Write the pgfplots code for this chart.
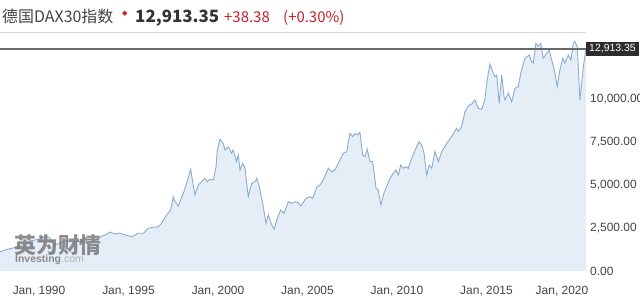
\documentclass[border=0pt]{standalone}
\usepackage{pgfplots}
\pgfplotsset{compat=1.18}
\usepackage{pgfplotstable}
\usepackage{fontspec}
\setmainfont{Liberation Sans}
\newfontfamily\cjk{Noto Sans CJK SC}
\newfontfamily\dejavu{DejaVu Sans}
\definecolor{linec}{RGB}{138,172,207}
\definecolor{fillc}{RGB}{229,238,247}
\definecolor{txt}{RGB}{68,68,68}
\definecolor{redc}{RGB}{200,30,40}
\definecolor{lvl}{RGB}{105,105,105}
\definecolor{boxc}{RGB}{45,45,45}
\definecolor{logoc}{RGB}{120,120,120}

\pgfplotstableread{
yr val
1987.82 1105
1988.10 1221
1988.55 1337
1988.99 1453
1989.50 1744
1990.00 1860
1990.39 2035
1990.61 1918
1990.84 1511
1991.17 1628
1991.51 1744
1991.95 1686
1992.40 1744
1992.79 1570
1993.18 1802
1993.52 2035
1993.69 2093
1993.97 2267
1994.24 2151
1994.52 2209
1994.80 2093
1995.18 1994
1995.55 2192
1995.83 2192
1996.10 2482
1996.38 2541
1996.66 2575
1996.85 2773
1997.13 3256
1997.36 3546
1997.50 4320
1997.60 4029
1997.78 3779
1998.06 4517
1998.25 5099
1998.47 5913
1998.71 4418
1998.90 5000
1999.09 5192
1999.27 5389
1999.40 5192
1999.55 5331
1999.74 5291
1999.89 6064
1999.96 7035
2000.11 7657
2000.29 7424
2000.39 7035
2000.57 7227
2000.76 6843
2000.85 7035
2001.04 6355
2001.13 6744
2001.23 5872
2001.38 6261
2001.51 5971
2001.69 4320
2001.88 5099
2002.07 5192
2002.16 5389
2002.31 4901
2002.53 3738
2002.68 2773
2002.81 3256
2003.00 2674
2003.14 2424
2003.31 3064
2003.50 3546
2003.69 3355
2003.93 4029
2004.12 3936
2004.30 4029
2004.49 3971
2004.62 3779
2004.92 4227
2005.14 4320
2005.29 4227
2005.51 4866
2005.70 5000
2005.88 5291
2006.16 5971
2006.35 5773
2006.53 5872
2006.81 6453
2007.00 6843
2007.19 6936
2007.37 8006
2007.52 7808
2007.65 8006
2007.78 7907
2007.93 8064
2008.08 6744
2008.21 6645
2008.34 7075
2008.49 6355
2008.64 6355
2008.83 4808
2008.95 4709
2009.10 3837
2009.27 4517
2009.42 4901
2009.61 5389
2009.79 5680
2009.94 5872
2010.07 5581
2010.21 6163
2010.35 5971
2010.50 6064
2010.63 5971
2010.82 6552
2011.10 7227
2011.24 7517
2011.38 7325
2011.51 6843
2011.66 5581
2011.80 6163
2011.94 5971
2012.12 6936
2012.31 6355
2012.50 6936
2012.78 7424
2013.05 7808
2013.33 8296
2013.42 8099
2013.61 8389
2013.80 9261
2013.98 9593
2014.17 9709
2014.36 9942
2014.54 9459
2014.73 9401
2014.91 9942
2015.01 10913
2015.19 12035
2015.34 11587
2015.47 11296
2015.57 11395
2015.71 9750
2015.85 11395
2015.98 10134
2016.03 9942
2016.22 10331
2016.41 9843
2016.59 10622
2016.78 10715
2016.91 11494
2017.15 12366
2017.39 12558
2017.52 12168
2017.61 12075
2017.76 13238
2017.89 13041
2018.03 13238
2018.17 12366
2018.36 12657
2018.51 12849
2018.64 12267
2018.79 11686
2018.95 10715
2019.10 11686
2019.26 12366
2019.38 12075
2019.57 12558
2019.72 12267
2019.85 13238
2019.94 13331
2020.07 13041
2020.22 9942
2020.41 11878
2020.56 12913.35
}\dax

\begin{document}
\begin{tikzpicture}[x=1bp,y=1bp]
\begin{axis}[
  scale only axis,
  width=586bp, height=239bp,
  xmin=1987.82, xmax=2020.56, ymin=0, ymax=13895,
  scaled x ticks=false, scaled y ticks=false,
  axis line style={draw=none},
  tick style={draw=none}, major tick length=0pt,
  xtick={1990,1995,2000,2005,2010,2015},
  xticklabels={{Jan, 1990},{Jan, 1995},{Jan, 2000},{Jan, 2005},{Jan, 2010},{Jan, 2015}},
  extra x ticks={2020},
  extra x tick labels={Jan{,} 2020},
  extra x tick style={xticklabel style={xshift=-14bp}},
  ytick={0,2500,5000,7500,10000},
  yticklabels={0.00,{2,500.00},{5,000.00},{7,500.00},{10,000.00}},
  yticklabel pos=right,
  ticklabel style={font=\fontsize{12}{14}\selectfont, text=txt},
  yticklabel style={anchor=west, inner sep=0pt, xshift=4bp},
  xticklabel style={anchor=base, inner sep=0pt, yshift=-23bp},
]
\addplot[draw=none, fill=fillc] table[x=yr, y=val] {\dax} \closedcycle;
\addplot[linec, line width=0.9bp] table[x=yr, y=val] {\dax};
\addplot[lvl, line width=1.6bp] coordinates {(1987.82,12913.35) (2020.56,12913.35)};
\coordinate (lv) at (axis cs:2020.56,12913.35);
\coordinate (tl) at (rel axis cs:0,1);
\coordinate (tr) at (rel axis cs:1,1);
\coordinate (O) at (rel axis cs:0,0);
\end{axis}
\draw[black!15, line width=0.8bp] (tl) -- (tr);
\node[anchor=west, fill=boxc, text=white, inner xsep=3bp, inner ysep=2.5bp,
  font=\fontsize{10.5}{12}\selectfont] at (lv) {12,913.35};
\begin{scope}[shift={(O)}]
\begin{scope}[yshift=-26bp]
% title
\node[anchor=base west, inner sep=0pt, text=txt, font=\cjk\fontsize{16}{18}\selectfont] at (2,275) {德国DAX30指数};
\node[anchor=base west, inner sep=0pt, text=redc, font=\dejavu\fontsize{7}{8}\selectfont] at (122,282) {◆};
\node[anchor=base west, inner sep=0pt, text=black!80, font=\cjk\bfseries\fontsize{17}{19}\selectfont] at (135,275) {12,913.35};
\node[anchor=base west, inner sep=0pt, text=redc, font=\cjk\fontsize{15}{17}\selectfont] at (224,275) {+38.38};
\node[anchor=base west, inner sep=0pt, text=redc, font=\cjk\fontsize{15}{17}\selectfont] at (283,275) {(+0.30\%)};
% watermark
\node[anchor=base west, inner sep=0pt, text=logoc, opacity=0.85, font=\cjk\bfseries\fontsize{22}{24}\selectfont] at (14,44) {英为财情};
\node[anchor=base west, inner sep=0pt, text=logoc, opacity=0.85, font=\bfseries\fontsize{10.5}{12}\selectfont] at (15,35) {Investing\textmd{\color{black!35}.com}};
\pgfresetboundingbox
\path[use as bounding box] (0,0) rectangle (640,297);
\end{scope}
\end{scope}
\end{tikzpicture}
\end{document}
